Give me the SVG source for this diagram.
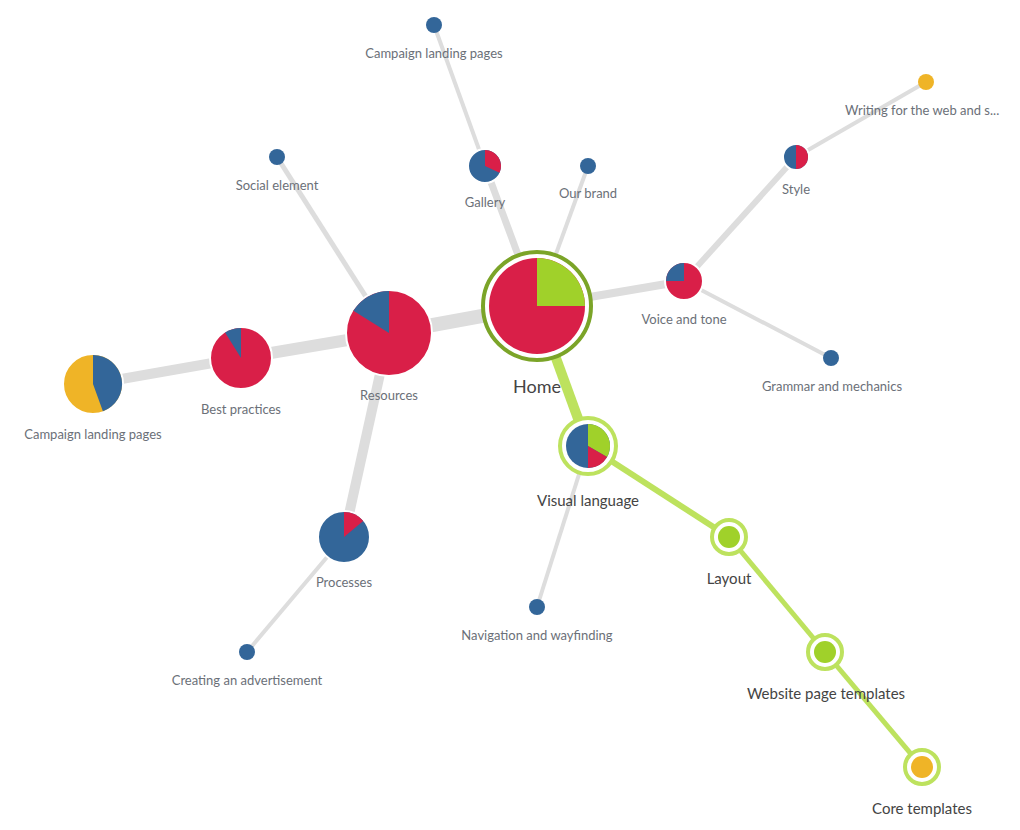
<svg xmlns="http://www.w3.org/2000/svg" width="1020" height="830" viewBox="0 0 1020 830">
<style>
.e{stroke:#dddddd;fill:none}
.g{stroke:#bde25e;fill:none}
.l{font-family:Lato,"Open Sans",sans-serif;font-size:13px;fill:#6b7078;text-anchor:middle}
.b{font-family:Lato,"Open Sans",sans-serif;font-size:15px;fill:#444;text-anchor:middle}
.dot{fill:#336699}
.pie{stroke:#fff;stroke-width:2}
.r{fill:#d91f48}.bl{fill:#336699}.gr{fill:#a0d12a}.y{fill:#efb427}
</style>
<rect width="1020" height="830" fill="#fff"/>
<g id="connectors">
<line class="e" x1="537" y1="306" x2="389" y2="333" stroke-width="14"/>
<line class="e" x1="389" y1="333" x2="241" y2="358" stroke-width="12"/>
<line class="e" x1="241" y1="358" x2="93" y2="384" stroke-width="10"/>
<line class="e" x1="389" y1="333" x2="344" y2="537" stroke-width="10"/>
<line class="e" x1="389" y1="333" x2="277" y2="157" stroke-width="5"/>
<line class="e" x1="537" y1="306" x2="485" y2="166" stroke-width="7"/>
<line class="e" x1="485" y1="166" x2="434" y2="25" stroke-width="4"/>
<line class="e" x1="537" y1="306" x2="588" y2="166" stroke-width="4"/>
<line class="e" x1="537" y1="306" x2="684" y2="281" stroke-width="8"/>
<line class="e" x1="684" y1="281" x2="796" y2="157" stroke-width="6"/>
<line class="e" x1="796" y1="157" x2="926" y2="82" stroke-width="4"/>
<line class="e" x1="684" y1="281" x2="831" y2="358" stroke-width="4"/>
<line class="e" x1="344" y1="537" x2="247" y2="652" stroke-width="4"/>
<line class="e" x1="588" y1="446" x2="537" y2="607" stroke-width="4"/>
<line class="g" x1="537" y1="306" x2="588" y2="446" stroke-width="10"/>
<line class="g" x1="588" y1="446" x2="729" y2="537" stroke-width="6"/>
<line class="g" x1="729" y1="537" x2="825" y2="652" stroke-width="5"/>
<line class="g" x1="825" y1="652" x2="922" y2="767" stroke-width="5"/>
</g>
<g id="home">
<circle cx="537" cy="306" r="54" fill="#fff" stroke="#7ba428" stroke-width="4"/>
<circle class="r" cx="537" cy="306" r="48"/>
<path class="gr" d="M537,306 L537,258 A48,48 0 0 1 585,306 Z"/>
<text class="b" x="537" y="393" style="font-size:18px">Home</text>
</g>
<g id="visual-language">
<circle cx="588" cy="446" r="28" fill="#fff" stroke="#bde25e" stroke-width="4"/>
<circle class="bl" cx="588" cy="446" r="22"/>
<path class="gr" d="M588,446 L588,424 A22,22 0 0 1 607.05,457 Z"/>
<path class="r" d="M588,446 L607.05,457 A22,22 0 0 1 588,468 Z"/>
<text class="b" x="588" y="506">Visual language</text>
</g>
<g id="layout">
<circle cx="729" cy="537" r="17" fill="#fff" stroke="#bde25e" stroke-width="4"/>
<circle class="gr" cx="729" cy="537" r="11"/>
<text class="b" x="729" y="584">Layout</text>
</g>
<g id="website-page-templates">
<circle cx="825" cy="652" r="17" fill="#fff" stroke="#bde25e" stroke-width="4"/>
<circle class="gr" cx="825" cy="652" r="11"/>
<text class="b" x="826" y="699">Website page templates</text>
</g>
<g id="core-templates">
<circle cx="922" cy="767" r="17" fill="#fff" stroke="#bde25e" stroke-width="4"/>
<circle class="y" cx="922" cy="767" r="11"/>
<text class="b" x="922" y="814">Core templates</text>
</g>
<g id="resources">
<circle class="r pie" cx="389" cy="333" r="43"/>
<path class="bl" d="M389,333 L353.4,310.7 A42,42 0 0 1 389,291 Z"/>
<text class="l" x="389" y="400">Resources</text>
</g>
<g id="best-practices">
<circle class="r pie" cx="241" cy="358" r="31"/>
<path class="bl" d="M241,358 L225.1,332.6 A30,30 0 0 1 241,328 Z"/>
<text class="l" x="241" y="414">Best practices</text>
</g>
<g id="campaign-landing-pages-left">
<circle class="y pie" cx="93" cy="384" r="30"/>
<path class="bl" d="M93,384 L93,355 A29,29 0 0 1 102.9,411.3 Z"/>
<text class="l" x="93" y="439">Campaign landing pages</text>
</g>
<g id="processes">
<circle class="bl pie" cx="344" cy="537" r="26"/>
<path class="r" d="M344,537 L344,512 A25,25 0 0 1 363.2,520.9 Z"/>
<text class="l" x="344" y="587">Processes</text>
</g>
<g id="gallery">
<circle class="bl pie" cx="485" cy="166" r="17"/>
<path class="r" d="M485,166 L485,150 A16,16 0 0 1 499.5,172.8 Z"/>
<text class="l" x="485" y="207">Gallery</text>
</g>
<g id="voice-and-tone">
<circle class="r pie" cx="684" cy="281" r="19"/>
<path class="bl" d="M684,281 L666,281 A18,18 0 0 1 684,263 Z"/>
<text class="l" x="684" y="324">Voice and tone</text>
</g>
<g id="style">
<circle class="bl pie" cx="796" cy="157" r="13"/>
<path class="r" d="M796,145 A12,12 0 0 1 796,169 Z"/>
<text class="l" x="796" y="194">Style</text>
</g>
<g id="campaign-landing-pages-top"><circle class="dot" cx="434" cy="25" r="8"/><text class="l" x="434" y="58">Campaign landing pages</text></g>
<g id="our-brand"><circle class="dot" cx="588" cy="166" r="8"/><text class="l" x="588" y="198">Our brand</text></g>
<g id="social-element"><circle class="dot" cx="277" cy="157" r="8"/><text class="l" x="277" y="190">Social element</text></g>
<g id="writing"><circle class="y" cx="926" cy="82" r="8"/><text class="l" x="845" y="115" style="text-anchor:start">Writing for the web and s...</text></g>
<g id="grammar"><circle class="dot" cx="831" cy="358" r="8"/><text class="l" x="832" y="391">Grammar and mechanics</text></g>
<g id="navigation"><circle class="dot" cx="537" cy="607" r="8"/><text class="l" x="537" y="640">Navigation and wayfinding</text></g>
<g id="creating"><circle class="dot" cx="247" cy="652" r="8"/><text class="l" x="247" y="685">Creating an advertisement</text></g>
</svg>
